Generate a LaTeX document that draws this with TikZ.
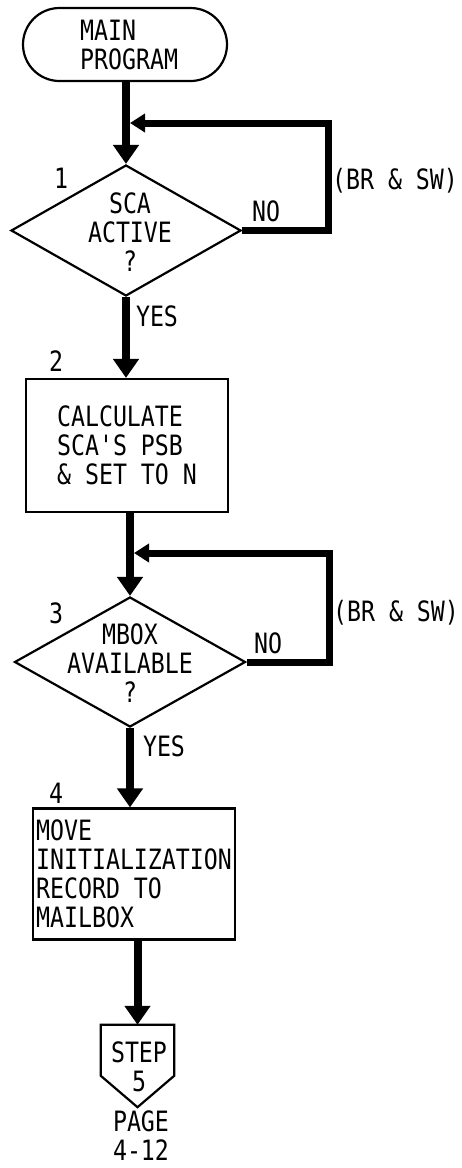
\documentclass[tikz,border=0pt]{standalone}
\usepackage{fontspec}
\newfontfamily\flowfont{DejaVu Sans Mono}[FakeStretch=0.83]
\usetikzlibrary{shapes.geometric,shapes.misc,arrows.meta,calc}
\begin{document}
\begin{tikzpicture}[x=1pt,y=-1pt,
  txt/.style={font=\flowfont\fontsize{28}{29}\selectfont, inner sep=0pt, align=center},
  outline/.style={draw=black, line width=2.2pt, inner sep=0pt},
  boxnode/.style={outline, rectangle, minimum width=202pt, align=left,
                  font=\flowfont\fontsize{28}{29}\selectfont},
  decision/.style={outline, diamond, minimum width=230pt, minimum height=131pt},
  flow/.style={line width=8pt, -{Triangle[width=25pt,length=19pt]}},
  back/.style={line width=7pt, -{Triangle[width=18pt,length=15pt]}}]
\useasboundingbox[fill=white] (0,0) rectangle (461,1168);

% terminal
\node[outline, rounded rectangle, minimum width=204pt, minimum height=73pt] (start) at (125,44.5) {};
\node[txt, align=left, anchor=west] (startT) at (80,44.5) {MAIN\\PROGRAM};

% decision 1
\node[decision] (d1) at (126,230.5) {};
\node[txt] (d1T) at (130,232) {SCA\\ACTIVE\\?};
\node[txt] (n1) at (61,178) {1};
\node[txt] (no1) at (266,211) {NO};
\node[txt] (bs1) at (395,181) {(BR \& SW)};
\node[txt] (yes1) at (157,316) {YES};

% box 2
\node[boxnode, minimum height=133pt] (b2) at (127,445.5) {CALCULATE\\SCA'S PSB\\\& SET TO N};
\node[txt] (n2) at (56,361) {2};

% decision 3
\node[decision, minimum width=231pt, minimum height=130pt] (d3) at (130,662) {};
\node[txt] (d3T) at (130,663) {MBOX\\AVAILABLE\\?};
\node[txt] (n3) at (56,613) {3};
\node[txt] (no3) at (268,643) {NO};
\node[txt] (bs3) at (396,613) {(BR \& SW)};
\node[txt] (yes3) at (164,746) {YES};

% box 4
\node[boxnode, minimum height=131pt] (b4) at (134,874) {MOVE\\INITIALIZATION\\RECORD TO\\MAILBOX};
\node[txt] (n4) at (56,793) {4};

% off-page connector
\node[inner sep=0pt, minimum width=73pt, minimum height=82pt] (s5) at (137.5,1066) {};
\draw[line width=2.2pt, line join=miter] (s5.north west) -- (s5.north east) -- ($(s5.north east)+(0,51)$)
  -- (s5.south) -- ($(s5.north west)+(0,51)$) -- cycle;
\node[txt] (s5T) at (139,1066.5) {STEP\\5};
\node[txt] (pg) at (141,1136) {PAGE\\4-12};

% junction / corner coordinates
\coordinate (j1) at (130,123);
\coordinate (r1) at (328,123);
\coordinate (j3) at (134,553);
\coordinate (r3) at (329,553);

% connectors
\draw[flow] (start.south -| d1.north) -- (d1.north);
\draw[back] (d1.east) -| (r1) -- (j1);
\draw[flow] (d1.south) -- (d1.south |- b2.north);
\draw[flow] (b2.south -| d3.north) -- (d3.north);
\draw[back] (d3.east) -| (r3) -- (j3);
\draw[flow] (d3.south) -- (d3.south |- b4.north);
\draw[flow] (b4.south -| s5.north) -- (s5.north);
\end{tikzpicture}
\end{document}
